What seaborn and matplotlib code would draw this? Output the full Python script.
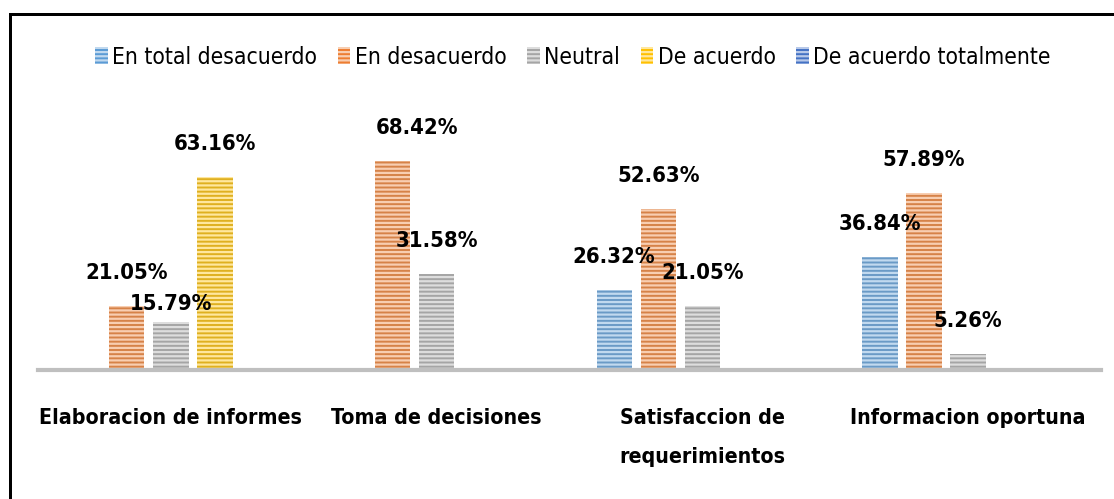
import numpy as np
import pandas as pd
import seaborn as sns
import matplotlib
matplotlib.use("Agg")
import matplotlib.pyplot as plt
from matplotlib.patches import Patch, Rectangle
from matplotlib import colors as mcolors
import matplotlib.font_manager as fm

# ---------------- data ----------------
categories = ["Elaboracion de informes", "Toma de decisiones",
              "Satisfaccion de\nrequerimientos", "Informacion oportuna"]
series = ["En total desacuerdo", "En desacuerdo", "Neutral",
          "De acuerdo", "De acuerdo totalmente"]
en_total_desacuerdo = [0.0, 0.0, 26.32, 36.84]
en_desacuerdo = [21.05, 68.42, 52.63, 57.89]
neutral = [15.79, 31.58, 21.05, 5.26]
de_acuerdo = [63.16, 0.0, 0.0, 0.0]
de_acuerdo_totalmente = [0.0, 0.0, 0.0, 0.0]

values = [en_total_desacuerdo, en_desacuerdo, neutral, de_acuerdo, de_acuerdo_totalmente]
colors = ["#5B9BD5", "#ED7D31", "#A5A5A5", "#FFC000", "#4472C4"]

rows = []
for s, vals in zip(series, values):
    for c, v in zip(categories, vals):
        rows.append({"cat": c, "serie": s, "val": v})
df = pd.DataFrame(rows)

# label offsets (pixels) for a few manually placed labels
label_dy = {(0, 2): 18}
label_dx = {(1, 1): 24}

sns.set_theme(style="white")
plt.rcParams["font.family"] = ["DejaVu Sans"]
plt.rcParams["hatch.linewidth"] = 1.6


def find_font(bold):
    """Pick a condensed/narrow sans face if one is installed."""
    best = None
    for f in fm.fontManager.ttflist:
        nm = (f.name + " " + f.fname).lower()
        if "mono" in nm or "serif" in nm and "sans" not in nm:
            continue
        cond = ("condensed" in nm or "narrow" in nm or
                f.stretch in ("condensed", "semi-condensed", "extra-condensed", 600, 700))
        if not cond:
            continue
        if "oblique" in nm or "italic" in nm or f.style != "normal":
            continue
        w = f.weight if isinstance(f.weight, int) else (700 if "bold" in str(f.weight) else 400)
        isbold = w >= 600 or "bold" in nm
        if isbold != bold:
            continue
        if any(k in nm for k in ("light", "thin", "black", "extra", "medium", "semibold")):
            continue
        score = 0 if "sans" in nm else 1
        if best is None or score < best[0]:
            best = (score, f.fname)
    if best:
        return fm.FontProperties(fname=best[1])
    return fm.FontProperties(family=["Liberation Sans", "DejaVu Sans"],
                             weight="bold" if bold else "normal")


fp_bold = find_font(True)
fp_reg = find_font(False)

fig = plt.figure(figsize=(11.14, 4.99), dpi=100)
W, H = 1114, 499
renderer = fig.canvas.get_renderer()


def fit_size(s, fp, target_px):
    fp2 = fp.copy()
    fp2.set_size(20)
    t = fig.text(0, 0, s, fontproperties=fp2)
    w = t.get_window_extent(renderer).width
    t.remove()
    return 20 * target_px / w


size_val = fit_size("57.89%", fp_bold, 82)
size_cat = fit_size("Elaboracion de informes", fp_bold, 262)
size_leg = fit_size("En total desacuerdo", fp_reg, 205)

ax = fig.add_axes([38 / W, (H - 370) / H, (1101 - 38) / W, 270 / H])

sns.barplot(data=df, x="cat", y="val", hue="serie", order=categories,
            hue_order=series, palette=colors, width=0.83, gap=0.2,
            legend=False, ax=ax, errorbar=None)


def light(c, f=0.62):
    r, g, b = mcolors.to_rgb(c)
    return (r + (1 - r) * f, g + (1 - g) * f, b + (1 - b) * f)


for cont, col in zip(ax.containers, colors):
    for p in cont.patches:
        p.set_edgecolor(light(col))
        p.set_linewidth(0)
        p.set_hatch("----")

fpv = fp_bold.copy()
fpv.set_size(size_val)
for si, cont in enumerate(ax.containers):
    for ci, p in enumerate(cont.patches):
        v = values[si][ci]
        if v <= 0:
            continue
        dy = label_dy.get((ci, si), 33) * 0.72
        dx = label_dx.get((ci, si), 0) * 0.72
        ax.annotate(f"{v:.2f}%", (p.get_x() + p.get_width() / 2, p.get_height()),
                    xytext=(dx, dy), textcoords="offset points",
                    ha="center", va="center", fontproperties=fpv, color="black")

ax.set_ylim(0, 270 / 3.055)
ax.set_xlim(-0.5, 3.5)
ax.set_xlabel("")
ax.set_ylabel("")
ax.set_yticks([])
for side in ["left", "right", "top"]:
    ax.spines[side].set_visible(False)
ax.spines["bottom"].set_color("#BFBFBF")
ax.spines["bottom"].set_linewidth(3)
ax.tick_params(axis="x", length=0, pad=27)
fpc = fp_bold.copy()
fpc.set_size(size_cat)
for t in ax.get_xticklabels():
    t.set_fontproperties(fpc)
    t.set_color("black")
    t.set_linespacing(2.2)
    t.set_verticalalignment("top")

handles = [Patch(facecolor=c, edgecolor=light(c), linewidth=0, hatch="----") for c in colors]
fpl = fp_reg.copy()
fpl.set_size(size_leg)
leg = fig.legend(handles, series, loc="center", bbox_to_anchor=(573 / W, 1 - 57 / H),
                 ncol=5, frameon=False, prop=fpl, handlelength=0.55,
                 handleheight=0.8, handletextpad=0.2, columnspacing=0.9)
for t in leg.get_texts():
    t.set_color("black")

# outer frame (left and top black lines)
fig.add_artist(Rectangle((9 / W, 0), 3 / W, (H - 13) / H, transform=fig.transFigure,
                         color="black", lw=0))
fig.add_artist(Rectangle((9 / W, (H - 16) / H), 1 - 9 / W, 3 / H, transform=fig.transFigure,
                         color="black", lw=0))

fig.savefig("out.png", dpi=100, facecolor="white")
